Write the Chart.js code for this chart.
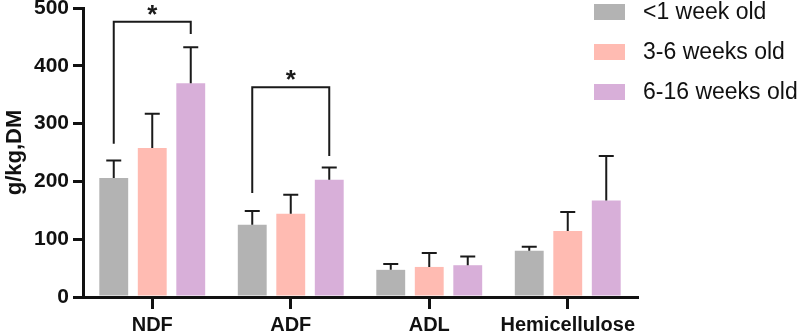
<!DOCTYPE html>
<html>
<head>
<meta charset="utf-8">
<script src="https://cdn.jsdelivr.net/npm/chart.js@4.4.0/dist/chart.umd.min.js"></script>
<style>
  html, body { margin: 0; padding: 0; background: #fff; }
  canvas { display: block; }
</style>
</head>
<body>
<canvas id="mycanvas" width="797" height="335"></canvas>
<script>
// data
var categories = ['NDF', 'ADF', 'ADL', 'Hemicellulose'];
var groups = ['<1 week old', '3-6 weeks old', '6-16 weeks old'];
var lt1Week = [206, 125, 47, 80];
var lt1WeekSd = [30, 24, 10, 7];
var w3to6 = [258, 144, 52, 114];
var w3to6Sd = [59, 33, 24, 33];
var w6to16 = [370, 203, 55, 167];
var w6to16Sd = [62, 21, 15, 77];
var yTicks = [0, 100, 200, 300, 400, 500];
// significance brackets: category, bracket top, leg ends (data units)
var sigCat = [0, 1];
var sigTop = [476, 363];
var sigLeftEnd = [265, 180];
var sigRightEnd = [455, 244];
var sigText = ['*', '*'];

var colors = ['#b3b3b3', '#ffbbb2', '#d8afd9'];
var sds = [lt1WeekSd, w3to6Sd, w6to16Sd];
var FONT = '"Liberation Sans", Arial, Helvetica, sans-serif';

var errorBars = {
	id: 'errorBars',
	afterDatasetsDraw: function(chart){
		var ctx = chart.ctx;
		var y = chart.scales.y;
		ctx.save();
		ctx.strokeStyle = '#1a1a1a';
		ctx.lineWidth = 2;
		chart.data.datasets.forEach(function(ds, di){
			var meta = chart.getDatasetMeta(di);
			meta.data.forEach(function(bar, i){
				var top = y.getPixelForValue(ds.data[i] + sds[di][i]);
				ctx.beginPath();
				ctx.moveTo(bar.x, bar.y);
				ctx.lineTo(bar.x, top);
				ctx.moveTo(bar.x - 7.5, top);
				ctx.lineTo(bar.x + 7.5, top);
				ctx.stroke();
			});
		});
		// brackets
		ctx.fillStyle = '#1a1a1a';
		ctx.font = 'bold 26px ' + FONT;
		ctx.textAlign = 'center';
		ctx.textBaseline = 'alphabetic';
		for (var k = 0; k < sigCat.length; k++) {
			var x1 = chart.getDatasetMeta(0).data[sigCat[k]].x;
			var x2 = chart.getDatasetMeta(2).data[sigCat[k]].x;
			var yt = y.getPixelForValue(sigTop[k]);
			ctx.beginPath();
			ctx.moveTo(x1, y.getPixelForValue(sigLeftEnd[k]));
			ctx.lineTo(x1, yt);
			ctx.lineTo(x2, yt);
			ctx.lineTo(x2, y.getPixelForValue(sigRightEnd[k]));
			ctx.stroke();
			ctx.fillText(sigText[k], (x1 + x2) / 2, yt + 1);
		}
		ctx.restore();
	}
};

var sideLegend = {
	id: 'sideLegend',
	afterDraw: function(chart){
		var ctx = chart.ctx;
		ctx.save();
		ctx.font = '23px ' + FONT;
		ctx.textAlign = 'left';
		ctx.textBaseline = 'middle';
		chart.data.datasets.forEach(function(ds, i){
			var cy = 12 + i * 40;
			ctx.fillStyle = ds.backgroundColor;
			ctx.fillRect(594, cy - 8, 31, 16);
			ctx.fillStyle = '#111';
			ctx.fillText(ds.label, 643, cy + 1);
		});
		ctx.restore();
	}
};

var chartdata = {
	labels: categories,
	datasets: [
		{ label: groups[0], data: lt1Week, backgroundColor: colors[0] },
		{ label: groups[1], data: w3to6, backgroundColor: colors[1] },
		{ label: groups[2], data: w6to16, backgroundColor: colors[2] }
	]
};

var ctx = document.getElementById('mycanvas');
var barGraph = new Chart(ctx, {
	type: 'bar',
	data: chartdata,
	plugins: [errorBars, sideLegend],
	options: {
		responsive: false,
		animation: false,
		datasets: { bar: { categoryPercentage: 0.834, barPercentage: 0.75 } },
		layout: { padding: { left: 0, right: 160, top: 8, bottom: 0 } },
		plugins: { legend: { display: false }, tooltip: { enabled: false } },
		scales: {
			x: {
				afterFit: function(s){ s.height = 38; s.paddingLeft = 0; s.paddingRight = 0; },
				grid: { display: true, offset: false, drawOnChartArea: false, drawTicks: true, tickLength: 12, lineWidth: 3, color: '#111' },
				border: { display: true, width: 3, color: '#111' },
				ticks: { color: '#111', padding: 4, maxRotation: 0, minRotation: 0, autoSkip: false, font: { family: FONT, size: 20, weight: 'bold' } }
			},
			y: {
				min: 0,
				max: 500,
				afterFit: function(s){ s.width = 83; s.paddingTop = 0; s.paddingBottom = 0; },
				afterBuildTicks: function(s){ s.ticks = yTicks.map(function(v){ return { value: v }; }); },
				grid: { display: true, drawOnChartArea: false, drawTicks: true, tickLength: 10, lineWidth: 3, color: '#111' },
				border: { display: true, width: 3, color: '#111' },
				ticks: { color: '#111', padding: 4, font: { family: FONT, size: 21, weight: 'bold' } },
				title: { display: true, text: 'g/kg,DM', color: '#111', padding: { top: 2, bottom: 0 }, font: { family: FONT, size: 22, weight: 'bold' } }
			}
		}
	}
});
</script>
</body>
</html>
